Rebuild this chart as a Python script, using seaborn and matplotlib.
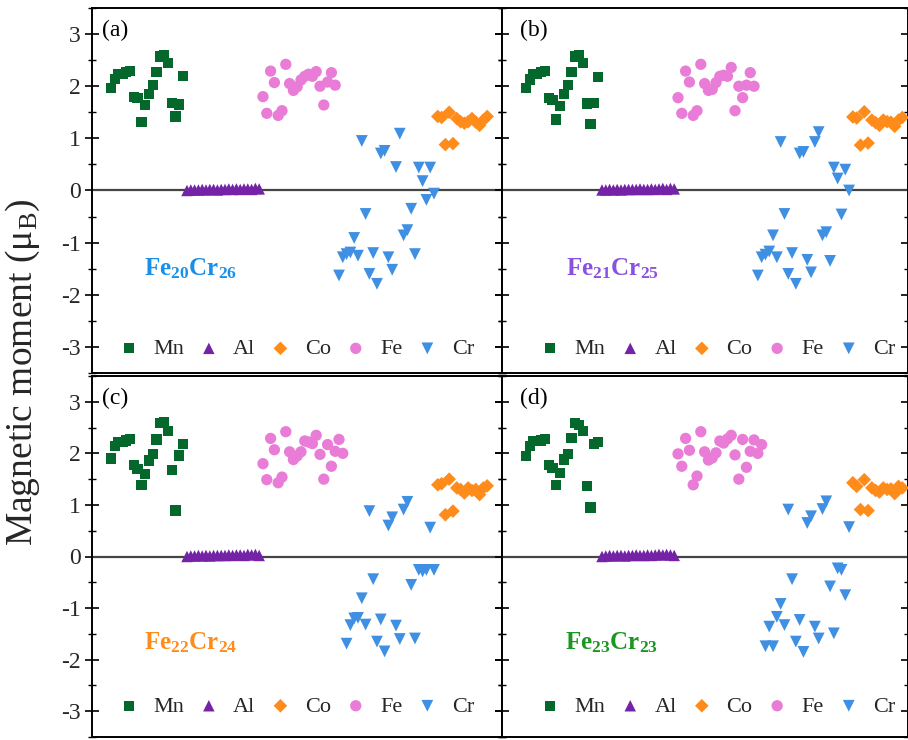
import numpy as np
import pandas as pd
import matplotlib
matplotlib.use("Agg")
import matplotlib.pyplot as plt
from matplotlib.ticker import MultipleLocator
import seaborn as sns

# ---------------- data ----------------
panel_tags = ["(a)", "(b)", "(c)", "(d)"]
fe_counts = [20, 21, 22, 23]
cr_counts = [26, 25, 24, 23]
plot_order = ["Mn", "Al", "Fe", "Cr", "Co"]
legend_order = ["Mn", "Al", "Co", "Fe", "Cr"]

mn_a = [1.97, 2.14, 2.24, 2.24, 2.27, 2.29, 1.79, 1.77, 1.32, 1.64, 1.85, 2.02, 2.28, 2.57, 2.59, 2.45, 1.68, 1.42, 1.65, 2.19]
mn_b = [1.96, 2.13, 2.24, 2.24, 2.27, 2.29, 1.78, 1.73, 1.36, 1.62, 1.85, 2.02, 2.28, 2.57, 2.60, 2.45, 1.67, 1.28, 1.68, 2.17]
mn_c = [1.90, 2.14, 2.22, 2.22, 2.25, 2.28, 1.78, 1.69, 1.38, 1.60, 1.86, 1.98, 2.27, 2.59, 2.60, 2.43, 1.67, 0.89, 1.96, 2.18]
mn_d = [1.95, 2.14, 2.24, 2.24, 2.25, 2.28, 1.78, 1.72, 1.38, 1.62, 1.88, 1.99, 2.30, 2.59, 2.55, 2.44, 1.36, 0.95, 2.18, 2.22]

al_a = [0.00, 0.01, 0.01, 0.01, 0.02, 0.01, 0.02, 0.02, 0.01, 0.02, 0.02, 0.03, 0.02, 0.03, 0.02, 0.03, 0.03, 0.02, 0.04, 0.03]
al_b = [0.01, 0.01, 0.02, 0.01, 0.02, 0.01, 0.02, 0.02, 0.02, 0.02, 0.03, 0.02, 0.02, 0.03, 0.02, 0.03, 0.04, 0.02, 0.04, 0.03]
al_c = [0.00, 0.01, 0.01, 0.02, 0.01, 0.02, 0.01, 0.02, 0.02, 0.02, 0.02, 0.03, 0.02, 0.03, 0.03, 0.02, 0.04, 0.03, 0.04, 0.02]
al_d = [0.00, 0.01, 0.02, 0.01, 0.02, 0.02, 0.01, 0.02, 0.02, 0.03, 0.02, 0.02, 0.03, 0.02, 0.03, 0.04, 0.03, 0.04, 0.03, 0.02]

fe_a = [1.80, 1.48, 2.29, 2.07, 1.44, 1.53, 2.42, 2.05, 1.92, 1.99, 2.12, 2.19, 2.23, 2.19, 2.28, 2.00, 1.64, 2.08, 2.26, 2.02]
fe_b = [1.78, 1.48, 2.29, 2.08, 1.44, 1.53, 2.42, 2.05, 1.92, 1.94, 2.07, 2.19, 2.21, 2.19, 2.36, 1.53, 2.00, 1.78, 2.02, 2.26, 2.00]
fe_c = [1.80, 1.49, 2.29, 2.07, 1.43, 1.54, 2.42, 2.03, 1.88, 1.95, 2.03, 2.24, 2.22, 2.19, 2.35, 1.98, 1.50, 2.17, 1.75, 2.04, 2.27, 2.00]
fe_d = [1.99, 1.75, 2.29, 2.06, 1.39, 1.56, 2.42, 2.03, 1.87, 1.91, 2.01, 2.24, 2.20, 2.28, 2.35, 1.97, 1.50, 2.27, 1.73, 2.04, 2.26, 2.00, 2.17]

cr_a = [-1.63, -1.28, -1.22, -1.19, -0.91, -1.25, 0.95, -0.45, -1.60, -1.20, -1.79, 0.71, 0.76, -1.28, -1.52, 0.45, 1.09, -0.86, -0.76, -0.35, -1.22, 0.44, 0.18, -0.18, 0.44, -0.06]
cr_b = [-1.63, -1.28, -1.23, -1.17, -0.86, -1.28, 0.93, -0.45, -1.60, -1.20, -1.79, 0.71, 0.74, -1.33, -1.57, 0.93, 1.12, -0.86, -0.80, -1.35, 0.44, 0.23, -0.46, 0.40, 0.00]
cr_c = [-1.69, -1.33, -1.20, -1.19, -0.81, -1.32, 0.88, -0.44, -1.65, -1.22, -1.84, 0.60, 0.76, -1.34, -1.60, 0.91, 1.06, -0.55, -1.59, -0.26, -0.29, -0.26, 0.56, -0.26]
cr_d = [-1.74, -1.36, -1.74, -1.17, -0.92, -1.33, 0.91, -0.44, -1.65, -1.23, -1.85, 0.65, 0.78, -1.36, -1.59, 0.92, 1.07, -0.58, -1.49, -0.23, -0.26, -0.75, 0.57]

co_a = [1.42, 1.40, 0.88, 1.50, 0.90, 1.38, 1.32, 1.29, 1.32, 1.38, 1.31, 1.25, 1.35, 1.42]
co_b = [1.41, 1.39, 0.87, 1.51, 0.91, 1.35, 1.30, 1.25, 1.35, 1.32, 1.31, 1.23, 1.35, 1.40]
co_c = [1.39, 1.41, 0.81, 1.50, 0.88, 1.33, 1.30, 1.23, 1.33, 1.28, 1.30, 1.20, 1.33, 1.37]
co_d = [1.43, 1.36, 0.91, 1.49, 0.89, 1.33, 1.28, 1.25, 1.33, 1.30, 1.31, 1.22, 1.36, 1.33]

panel_data = [
    {"Mn": mn_a, "Al": al_a, "Fe": fe_a, "Cr": cr_a, "Co": co_a},
    {"Mn": mn_b, "Al": al_b, "Fe": fe_b, "Cr": cr_b, "Co": co_b},
    {"Mn": mn_c, "Al": al_c, "Fe": fe_c, "Cr": cr_c, "Co": co_c},
    {"Mn": mn_d, "Al": al_d, "Fe": fe_d, "Cr": cr_d, "Co": co_d},
]

# ---------------- styles ----------------
colors = {"Mn": "#04682d", "Al": "#7423a6", "Co": "#ff8c1a", "Fe": "#e97cd6", "Cr": "#3f8fe3"}
markers = {"Mn": "s", "Al": "^", "Co": "D", "Fe": "o", "Cr": "v"}
sizes = {"Mn": 54, "Al": 68, "Co": 48, "Fe": 66, "Cr": 72}
label_colors = ["#1a8fea", "#8a50e2", "#ff8c1a", "#1a9622"]

rows = []
for p, d in enumerate(panel_data):
    idx = 1
    for el in plot_order:
        for v in d[el]:
            rows.append({"panel": p, "element": el, "idx": idx, "moment": v})
            idx += 1
df = pd.DataFrame(rows)

sns.set_theme(style="ticks")
plt.rcParams["font.family"] = ["Liberation Serif", "DejaVu Serif"]
plt.rcParams["mathtext.fontset"] = "custom"
plt.rcParams["mathtext.rm"] = "Liberation Serif"
plt.rcParams["mathtext.bf"] = "Liberation Serif:bold"
plt.rcParams["mathtext.it"] = "Liberation Serif:italic"
plt.rcParams["axes.unicode_minus"] = False

W, H = 908, 740
fig = plt.figure(figsize=(W / 100, H / 100), dpi=100)
fig.patch.set_facecolor("white")

rects = [
    (92, 8, 410, 365),
    (502, 8, 406, 365),
    (92, 376, 410, 361),
    (502, 376, 406, 361),
]
xlims = [(-4.0, 103.9), (-5.3, 101.5), (-4.0, 103.9), (-5.3, 101.5)]
leg_x = [0.497, 0.53, 0.497, 0.53]
leg_y = [0.066, 0.066, 0.085, 0.085]
tag_x = [0.024, 0.044, 0.024, 0.044]
comp_x = [0.128, 0.158, 0.128, 0.155]
comp_y = [0.285, 0.285, 0.262, 0.262]

for p in range(4):
    x0, y0, w, h = rects[p]
    ax = fig.add_axes([x0 / W, 1 - (y0 + h) / H, w / W, h / H])
    ax.set_facecolor("white")
    ax.axhline(0, color="#454545", lw=1.6, zorder=1)
    handles = {}
    for el in plot_order:
        sub = df[(df.panel == p) & (df.element == el)]
        n_before = len(ax.collections)
        sns.scatterplot(data=sub, x="idx", y="moment", marker=markers[el],
                        color=colors[el], s=sizes[el], edgecolor="none",
                        linewidth=0, ax=ax, legend=False, zorder=3)
        handles[el] = ax.collections[n_before]
    ax.set_xlim(*xlims[p])
    ax.set_ylim(-3.5, 3.5)
    ax.set_xlabel("")
    ax.set_ylabel("")
    ax.set_xticks([])
    ax.set_yticks(range(-3, 4))
    ax.yaxis.set_minor_locator(MultipleLocator(0.5))
    ax.tick_params(axis="y", which="major", left=True, right=True, direction="inout",
                   length=10, width=1.2, color="black", labelsize=17, pad=3)
    ax.tick_params(axis="y", which="minor", left=True, right=True, direction="inout",
                   length=6, width=1.0, color="black")
    if p % 2 == 1:
        ax.tick_params(axis="y", labelleft=False)
    for s in ax.spines.values():
        s.set_visible(True)
        s.set_color("black")
        s.set_linewidth(1.4)

    ax.legend(handles=[handles[e] for e in legend_order], labels=legend_order,
              ncol=5, loc="center", bbox_to_anchor=(leg_x[p], leg_y[p]),
              frameon=False, fontsize=16, handlelength=1.0, handletextpad=0.6,
              columnspacing=0.62, borderpad=0, borderaxespad=0, scatterpoints=1)

    ax.text(tag_x[p], 0.938, panel_tags[p], transform=ax.transAxes, fontsize=17,
            ha="left", va="center", color="black")
    comp = r"$\mathbf{Fe_{%d}Cr_{%d}}$" % (fe_counts[p], cr_counts[p])
    ax.text(comp_x[p], comp_y[p], comp, transform=ax.transAxes, fontsize=18,
            ha="left", va="center", color=label_colors[p])

fig.text(0.025, 0.497, "Magnetic moment (μ$_\\mathrm{B}$)", rotation=90,
         ha="center", va="center", fontsize=27)

fig.savefig("out.png", dpi=100, facecolor="white")
